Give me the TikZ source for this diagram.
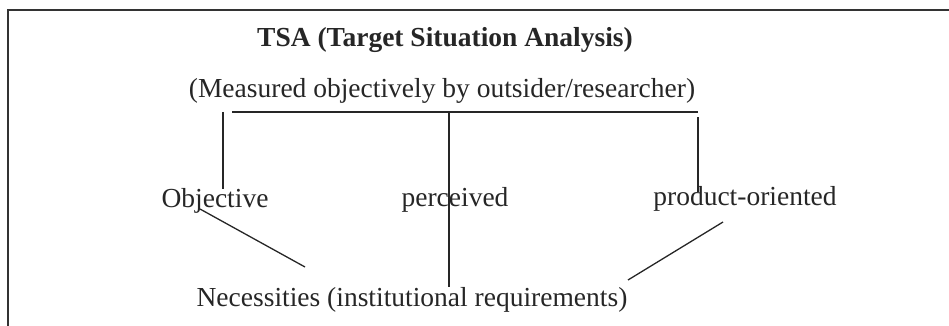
\documentclass[tikz,border=0pt]{standalone}
\usepackage{fontspec}
\setmainfont{Liberation Serif}
\begin{document}
\begin{tikzpicture}[
        x=1pt, y=-1pt,
        every node/.style={inner sep=0pt, anchor=base, text=black!85,
          font=\fontsize{27.5}{30}\selectfont},
        link/.style={line width=1.3pt, black!85}
      ]
      \useasboundingbox (0,0) rectangle (949,326);
      \draw[line width=1.6pt, black!80] (8,326) -- (8,10) -- (949,10);
      % texts
      \node[font=\fontsize{27.5}{30}\selectfont\bfseries] (tsa) at (445,47) {TSA (Target Situation Analysis)};
      \node (meas) at (442,98) {(Measured objectively by outsider/researcher)};
      \node (obj) at (215,207) {Objective};
      \node (perc) at (455,206) {perceived};
      \node (prod) at (745,205) {product-oriented};
      \node (nec) at (412,306) {Necessities (institutional requirements)};
      % connectors
      \coordinate (barl) at (232,112);
      \coordinate (barm) at (449,112);
      \coordinate (barr) at (698,112);
      \draw[link, line width=1.8pt] (barl) -- (barr);
      \draw[link] (223,112) -- (223,189);
      \draw[link] (barm) -- (barm |- nec.north);
      \draw[link] (698,117) -- (698,192);
      \draw[link] (200,209) -- (305,267);
      \draw[link] (723,222) -- (628,280);
\end{tikzpicture}
\end{document}
